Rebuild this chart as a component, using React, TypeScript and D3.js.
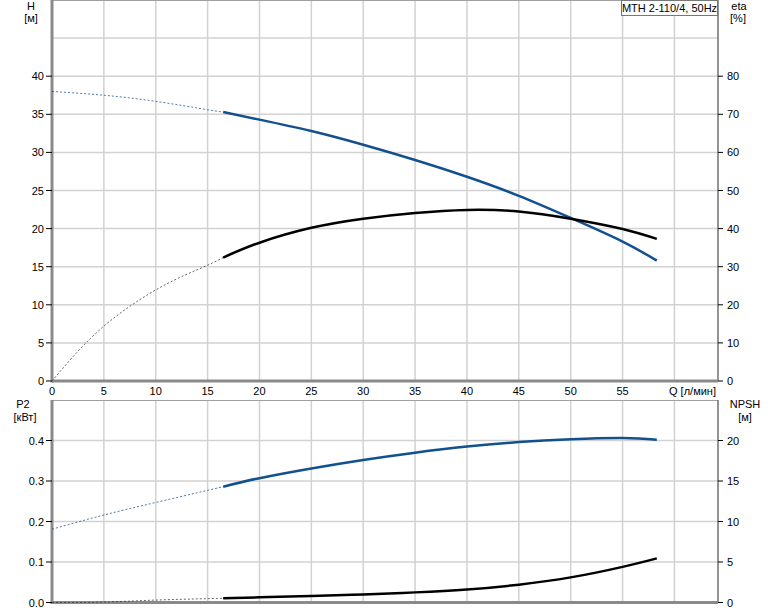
import * as d3 from 'd3';
import { useEffect, useRef } from 'react';

// flow values, l/min
const qHeadDash = [0, 5, 10, 15, 16.5];
const headDash = [38.0, 37.5, 36.7, 35.6, 35.3];
const qSolid = [16.5, 20, 25, 30, 35, 40, 45, 50, 55, 58.3];
const headSolid = [35.3, 34.3, 32.8, 31.0, 29.0, 26.8, 24.3, 21.4, 18.3, 15.8];

const qEtaDash = [0, 2.5, 5, 7.5, 10, 12.5, 15, 16.5];
const etaDash = [0, 7.8, 14.4, 19.6, 23.9, 27.4, 30.4, 32.4];
const etaSolid = [32.4, 36.3, 40.2, 42.6, 44.1, 44.9, 44.5, 42.6, 39.9, 37.3];

const qP2Dash = [0, 5, 10, 15, 16.5];
const p2Dash = [0.181, 0.216, 0.247, 0.277, 0.286];
const p2Solid = [0.286, 0.307, 0.331, 0.352, 0.37, 0.385, 0.396, 0.403, 0.406, 0.402];

const qNpshDash = [0, 5, 10, 16.5];
const npshDash = [0, 0.05, 0.3, 0.52];
const npshSolid = [0.52, 0.64, 0.8, 1.0, 1.25, 1.6, 2.2, 3.1, 4.4, 5.45];

const qTicks = [0, 5, 10, 15, 20, 25, 30, 35, 40, 45, 50, 55];
const headTicks = [0, 5, 10, 15, 20, 25, 30, 35, 40];
const etaTicks = [0, 10, 20, 30, 40, 50, 60, 70, 80];
const p2Ticks = [0, 0.1, 0.2, 0.3, 0.4];
const npshTicks = [0, 5, 10, 15, 20];

const BLUE = '#12508e';
const GRID = '#d2d2d2';
const AXIS = '#8a8a8a';
const FONT = 'Liberation Sans, Arial, sans-serif';

export default function App() {
  const ref = useRef<SVGSVGElement>(null);

  useEffect(() => {
    if (!ref.current) return;
    const svg = d3.select(ref.current);
    svg.selectAll('*').remove();

    const left = 52,
      right = 718;
    const x = d3.scaleLinear().domain([0, 64.2]).range([left, right]);

    // upper panel
    const yH = d3.scaleLinear().domain([0, 50]).range([381, 0]);
    const yEta = d3.scaleLinear().domain([0, 100]).range([381, 0]);
    // lower panel
    const yP2 = d3.scaleLinear().domain([0, 0.5]).range([602.5, 400]);
    const yNpsh = d3.scaleLinear().domain([0, 25]).range([602.5, 400]);

    const gridX = d3.range(0, 65, 5);

    const panel = (yl: d3.ScaleLinear<number, number>, steps: number[], top: number, bottom: number) => {
      const g = svg.append('g');
      g.selectAll('line.v')
        .data(gridX.filter((d) => x(d) > left && x(d) < right))
        .join('line')
        .attr('x1', (d) => x(d))
        .attr('x2', (d) => x(d))
        .attr('y1', top)
        .attr('y2', bottom)
        .attr('stroke', GRID)
        .attr('stroke-width', 1.5);
      g.selectAll('line.h')
        .data(steps)
        .join('line')
        .attr('x1', left)
        .attr('x2', right)
        .attr('y1', (d) => yl(d))
        .attr('y2', (d) => yl(d))
        .attr('stroke', GRID)
        .attr('stroke-width', 1.5);
      // frame
      g.append('line')
        .attr('x1', left)
        .attr('x2', right)
        .attr('y1', top + 0.5)
        .attr('y2', top + 0.5)
        .attr('stroke', '#a0a0a0')
        .attr('stroke-width', 1);
      g.append('line')
        .attr('x1', right)
        .attr('x2', right)
        .attr('y1', top)
        .attr('y2', bottom)
        .attr('stroke', '#707070')
        .attr('stroke-width', 1.5);
      g.append('line')
        .attr('x1', left)
        .attr('x2', left)
        .attr('y1', top)
        .attr('y2', bottom + 1.5)
        .attr('stroke', AXIS)
        .attr('stroke-width', 3);
      g.append('line')
        .attr('x1', left)
        .attr('x2', right)
        .attr('y1', bottom)
        .attr('y2', bottom)
        .attr('stroke', AXIS)
        .attr('stroke-width', 3);
    };

    panel(yH, d3.range(5, 50, 5), 0, 381);
    panel(yP2, [0.1, 0.2, 0.3, 0.4], 400, 602.5);

    const text = (t: string, px: number, py: number, anchor = 'start') =>
      svg
        .append('text')
        .text(t)
        .attr('x', px)
        .attr('y', py)
        .attr('text-anchor', anchor)
        .attr('font-family', FONT)
        .attr('font-size', 11)
        .attr('fill', '#000');

    const leftAxis = (scale: d3.ScaleLinear<number, number>, ticks: number[], fmt: (d: number) => string) => {
      ticks.forEach((d) => {
        svg
          .append('line')
          .attr('x1', left - 6)
          .attr('x2', left)
          .attr('y1', scale(d))
          .attr('y2', scale(d))
          .attr('stroke', '#000');
        text(fmt(d), left - 8, scale(d) + 4, 'end');
      });
    };
    const rightAxis = (scale: d3.ScaleLinear<number, number>, ticks: number[]) => {
      ticks.forEach((d) => {
        svg
          .append('line')
          .attr('x1', right)
          .attr('x2', right + 5)
          .attr('y1', scale(d))
          .attr('y2', scale(d))
          .attr('stroke', '#000');
        text(String(d), right + 9, scale(d) + 4);
      });
    };

    leftAxis(yH, headTicks, (d) => String(d));
    rightAxis(yEta, etaTicks);
    leftAxis(yP2, p2Ticks, d3.format('.1f'));
    rightAxis(yNpsh, npshTicks);

    qTicks.forEach((d) => text(String(d), x(d), 395, 'middle'));
    text('Q [л/мин]', 669, 395);

    text('H', 31, 10, 'middle');
    text('[м]', 31, 22, 'middle');
    text('eta', 739, 10, 'middle');
    text('[%]', 738, 22, 'middle');
    text('P2', 23, 408, 'middle');
    text('[кВт]', 25, 421, 'middle');
    text('NPSH', 745, 408, 'middle');
    text('[м]', 745, 421, 'middle');

    // legend box
    svg
      .append('rect')
      .attr('x', 621.5)
      .attr('y', 0.5)
      .attr('width', 96)
      .attr('height', 15)
      .attr('fill', '#fff')
      .attr('stroke', '#777');
    text('MTH 2-110/4, 50Hz', 669.5, 12, 'middle');

    const curve = (
      qs: number[],
      vs: number[],
      scale: d3.ScaleLinear<number, number>,
      color: string,
      dashed: boolean,
    ) => {
      const line = d3
        .line<number>()
        .x((_, i) => x(qs[i]))
        .y((d) => scale(d))
        .curve(d3.curveNatural);
      svg
        .append('path')
        .attr('d', line(vs))
        .attr('fill', 'none')
        .attr('stroke', color)
        .attr('stroke-width', dashed ? 1 : 2.5)
        .attr('stroke-dasharray', dashed ? '2,2' : null)
        .attr('opacity', dashed ? 0.75 : 1);
    };

    curve(qHeadDash, headDash, yH, BLUE, true);
    curve(qSolid, headSolid, yH, BLUE, false);
    curve(qEtaDash, etaDash, yEta, '#333', true);
    curve(qSolid, etaSolid, yEta, '#000', false);
    curve(qP2Dash, p2Dash, yP2, BLUE, true);
    curve(qSolid, p2Solid, yP2, BLUE, false);
    curve(qNpshDash, npshDash, yNpsh, '#333', true);
    curve(qSolid, npshSolid, yNpsh, '#000', false);
  }, []);

  return (
    <svg
      ref={ref}
      width={774}
      height={611}
      style={{ position: 'absolute', left: 0, top: 0, background: '#fff' }}
    />
  );
}
